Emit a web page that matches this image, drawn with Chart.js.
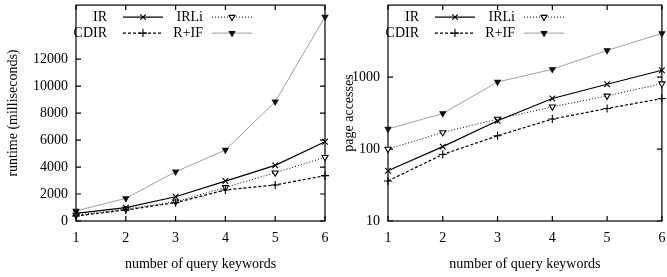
<!DOCTYPE html>
<html>
<head>
<meta charset="utf-8">
<script src="https://cdn.jsdelivr.net/npm/chart.js@4/dist/chart.umd.min.js"></script>
<style>
  html, body { margin: 0; padding: 0; background: #fff; }
  #wrap { position: relative; width: 667px; height: 277px; overflow: hidden; }
  .pane { position: absolute; top: 0; height: 277px; }
</style>
</head>
<body>
<div id="wrap">
  <div class="pane" style="left:0;width:333px"><canvas id="runtime" width="333" height="277"></canvas></div>
  <div class="pane" style="left:333px;width:334px"><canvas id="access" width="334" height="277"></canvas></div>
</div>
<script>
// ── data ───────────────────────────────────────────────────
const keywords = ['1', '2', '3', '4', '5', '6'];

const runtimeIR   = [570, 985, 1800, 2960, 4120, 5870];
const runtimeCDIR = [370, 815, 1360, 2300, 2670, 3360];
const runtimeIRLi = [440, 890, 1430, 2490, 3580, 4720];
const runtimeRIF  = [750, 1680, 3650, 5260, 8840, 15130];

const accessIR   = [50, 108, 247, 503, 795, 1242];
const accessCDIR = [36, 84, 153, 261, 366, 503];
const accessIRLi = [100, 170, 261, 386, 548, 810];
const accessRIF  = [190, 312, 855, 1282, 2346, 4035];

const runtimeTicks = [0, 2000, 4000, 6000, 8000, 10000, 12000];
const accessTicks  = [10, 100, 1000];

// ── shared look ────────────────────────────────────────────
const FONT = { family: "'Liberation Serif', 'Times New Roman', serif", size: 14 };
const INK = '#000';

function series(ir, cdir, irli, rif) {
  const base = { borderWidth: 1.2, pointRadius: 4, pointBorderWidth: 1.1, clip: false, tension: 0, fill: false };
  return [
    { ...base, label: 'IR',   data: ir,   borderColor: '#000', pointStyle: 'crossRot', pointBorderColor: '#000', pointBackgroundColor: '#000' },
    { ...base, label: 'CDIR', data: cdir, borderColor: '#000', borderDash: [3, 2], pointStyle: 'cross', pointBorderColor: '#000', pointBackgroundColor: '#000' },
    { ...base, label: 'IRLi', data: irli, borderColor: '#000', borderDash: [1, 2], borderWidth: 1, pointRadius: 3.5, pointStyle: 'triangle', pointRotation: 180, pointBorderColor: '#000', pointBackgroundColor: '#fff' },
    { ...base, label: 'R+IF', data: rif,  borderColor: '#a0a0a0', borderWidth: 1, pointRadius: 3.2, pointStyle: 'triangle', pointRotation: 180, pointBorderColor: '#111', pointBackgroundColor: '#111' },
  ];
}

// gnuplot style box with inward mirrored tick marks
const frame = {
  id: 'frame',
  beforeDatasetsDraw(chart) {
    const { ctx, chartArea: a, scales } = chart;
    const t = 5;
    ctx.save();
    ctx.strokeStyle = INK;
    ctx.lineWidth = 1.2;
    ctx.strokeRect(a.left, a.top, a.right - a.left, a.bottom - a.top);
    ctx.beginPath();
    scales.x.ticks.forEach((_, i) => {
      const px = scales.x.getPixelForTick(i);
      ctx.moveTo(px, a.bottom); ctx.lineTo(px, a.bottom - t);
      ctx.moveTo(px, a.top);    ctx.lineTo(px, a.top + t);
    });
    scales.y.ticks.forEach(tk => {
      const py = scales.y.getPixelForValue(tk.value);
      ctx.moveTo(a.left, py);  ctx.lineTo(a.left + t, py);
      ctx.moveTo(a.right, py); ctx.lineTo(a.right - t, py);
    });
    ctx.stroke();
    ctx.restore();
  }
};

// key: two columns, label right-aligned then line sample with marker
const key = {
  id: 'key',
  afterDraw(chart) {
    const { ctx, chartArea: a } = chart;
    const cols = [{ text: 31, x1: 47, x2: 87 }, { text: 127, x1: 136, x2: 176 }];
    const rows = [12, 28];
    ctx.save();
    chart.data.datasets.forEach((ds, i) => {
      const c = cols[Math.floor(i / 2)], y = a.top + rows[i % 2];
      ctx.font = `${FONT.size}px ${FONT.family}`;
      ctx.fillStyle = INK;
      ctx.textAlign = 'right';
      ctx.textBaseline = 'middle';
      ctx.fillText(ds.label, a.left + c.text, y);
      ctx.strokeStyle = ds.borderColor;
      ctx.lineWidth = ds.borderWidth;
      ctx.setLineDash(ds.borderDash || []);
      ctx.beginPath();
      ctx.moveTo(a.left + c.x1, y); ctx.lineTo(a.left + c.x2, y);
      ctx.stroke();
      ctx.setLineDash([]);
      ctx.strokeStyle = ds.pointBorderColor;
      ctx.fillStyle = ds.pointBackgroundColor;
      ctx.lineWidth = ds.pointBorderWidth;
      Chart.helpers.drawPoint(ctx, {
        pointStyle: ds.pointStyle, radius: ds.pointRadius, rotation: ds.pointRotation || 0, borderWidth: ds.pointBorderWidth
      }, a.left + (c.x1 + c.x2) / 2, y);
    });
    ctx.restore();
  }
};

function xAxis() {
  return {
    type: 'category', offset: false,
    grid: { display: false, drawTicks: false }, border: { display: false },
    ticks: { font: FONT, color: INK, padding: 9, maxRotation: 0, autoSkip: false },
    title: { display: true, text: 'number of query keywords', font: FONT, color: INK, padding: { top: 0, bottom: 4 } },
    afterFit(s) { s.height = 56; s.paddingLeft = 0; s.paddingRight = 0; }
  };
}

function makeChart(id, datasets, yOpts, padRight) {
  return new Chart(document.getElementById(id), {
    type: 'line',
    data: { labels: keywords, datasets },
    options: {
      responsive: false, animation: false,
      layout: { padding: { top: 5, right: padRight, left: 0, bottom: 0 } },
      plugins: { legend: { display: false }, tooltip: { enabled: false } },
      scales: { x: xAxis(), y: yOpts },
    },
    plugins: [frame, key],
  });
}

// ── left: runtime ──────────────────────────────────────────
makeChart('runtime', series(runtimeIR, runtimeCDIR, runtimeIRLi, runtimeRIF), {
  type: 'linear', min: 0, max: 16000,
  grid: { display: false, drawTicks: false }, border: { display: false },
  ticks: { font: FONT, color: INK, padding: 8, callback: v => String(v) },
  afterBuildTicks(s) { s.ticks = runtimeTicks.map(v => ({ value: v })); },
  title: { display: true, text: 'runtime (milliseconds)', font: FONT, color: INK, padding: { top: 5, bottom: 0 } },
  afterFit(s) { s.width = 76; s.paddingTop = 0; s.paddingBottom = 0; }
}, 8);

// ── right: page accesses (log) ─────────────────────────────
makeChart('access', series(accessIR, accessCDIR, accessIRLi, accessRIF), {
  type: 'logarithmic', min: 10, max: 10000,
  grid: { display: false, drawTicks: false }, border: { display: false },
  ticks: { font: FONT, color: INK, padding: 8, callback: v => String(v) },
  afterBuildTicks(s) { s.ticks = accessTicks.map(v => ({ value: v })); },
  title: { display: true, text: 'page accesses', font: FONT, color: INK, padding: { top: 8, bottom: 0 } },
  afterFit(s) { s.width = 55; s.paddingTop = 0; s.paddingBottom = 0; }
}, 0);
</script>
</body>
</html>
